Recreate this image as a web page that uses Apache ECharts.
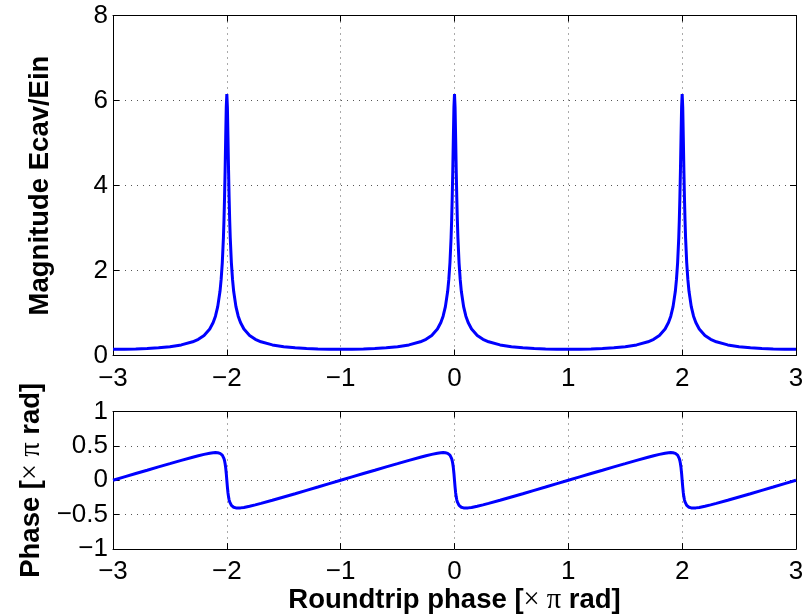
<!DOCTYPE html>
<html>
<head>
<meta charset="utf-8">
<script src="https://cdn.jsdelivr.net/npm/echarts@6/dist/echarts.min.js"></script>
<style>
html,body{margin:0;padding:0;background:#fff;}
#chart{width:809px;height:616px;}
</style>
</head>
<body>
<div id="chart"></div>
<script>
// Roundtrip phase (× π rad)
const roundtripPhase = [
 -3, -2.9, -2.8, -2.7, -2.6, -2.5, -2.4, -2.3, -2.25, -2.2, -2.15, -2.12, -2.1, -2.08, -2.06, -2.05, -2.04, -2.03, -2.025, -2.02, -2.015, -2.01, -2.005,
 -2, -1.995, -1.99, -1.985, -1.98, -1.975, -1.97, -1.96, -1.95, -1.94, -1.92, -1.9, -1.88, -1.85, -1.8, -1.75, -1.7, -1.6, -1.5, -1.4, -1.3, -1.2, -1.1,
 -1, -0.9, -0.8, -0.7, -0.6, -0.5, -0.4, -0.3, -0.25, -0.2, -0.15, -0.12, -0.1, -0.08, -0.06, -0.05, -0.04, -0.03, -0.025, -0.02, -0.015, -0.01, -0.005,
 0, 0.005, 0.01, 0.015, 0.02, 0.025, 0.03, 0.04, 0.05, 0.06, 0.08, 0.1, 0.12, 0.15, 0.2, 0.25, 0.3, 0.4, 0.5, 0.6, 0.7, 0.8, 0.9,
 1, 1.1, 1.2, 1.3, 1.4, 1.5, 1.6, 1.7, 1.75, 1.8, 1.85, 1.88, 1.9, 1.92, 1.94, 1.95, 1.96, 1.97, 1.975, 1.98, 1.985, 1.99, 1.995,
 2, 2.005, 2.01, 2.015, 2.02, 2.025, 2.03, 2.04, 2.05, 2.06, 2.08, 2.1, 2.12, 2.15, 2.2, 2.25, 2.3, 2.4, 2.5, 2.6, 2.7, 2.8, 2.9, 3
];
// Magnitude Ecav/Ein
const magnitude = [
 0.146, 0.148, 0.154, 0.164, 0.181, 0.207, 0.249, 0.322, 0.382, 0.473, 0.624, 0.775, 0.925, 1.15, 1.51, 1.79, 2.18, 2.77, 3.19, 3.72, 4.37, 5.13, 5.84,
 6.15, 5.84, 5.13, 4.37, 3.72, 3.19, 2.77, 2.18, 1.79, 1.51, 1.15, 0.925, 0.775, 0.624, 0.473, 0.382, 0.322, 0.249, 0.207, 0.181, 0.164, 0.154, 0.148,
 0.146, 0.148, 0.154, 0.164, 0.181, 0.207, 0.249, 0.322, 0.382, 0.473, 0.624, 0.775, 0.925, 1.15, 1.51, 1.79, 2.18, 2.77, 3.19, 3.72, 4.37, 5.13, 5.84,
 6.15, 5.84, 5.13, 4.37, 3.72, 3.19, 2.77, 2.18, 1.79, 1.51, 1.15, 0.925, 0.775, 0.624, 0.473, 0.382, 0.322, 0.249, 0.207, 0.181, 0.164, 0.154, 0.148,
 0.146, 0.148, 0.154, 0.164, 0.181, 0.207, 0.249, 0.322, 0.382, 0.473, 0.624, 0.775, 0.925, 1.15, 1.51, 1.79, 2.18, 2.77, 3.19, 3.72, 4.37, 5.13, 5.84,
 6.15, 5.84, 5.13, 4.37, 3.72, 3.19, 2.77, 2.18, 1.79, 1.51, 1.15, 0.925, 0.775, 0.624, 0.473, 0.382, 0.322, 0.249, 0.207, 0.181, 0.164, 0.154, 0.148, 0.146
];
// Phase (× π rad)
const phase = [
 0, 0.049, 0.098, 0.146, 0.195, 0.242, 0.290, 0.335, 0.357, 0.377, 0.394, 0.401, 0.403, 0.401, 0.392, 0.381, 0.365, 0.336, 0.314, 0.284, 0.241, 0.181, 0.099,
 0, -0.099, -0.181, -0.241, -0.284, -0.314, -0.336, -0.365, -0.381, -0.392, -0.401, -0.403, -0.401, -0.394, -0.377, -0.357, -0.335, -0.290, -0.242, -0.195, -0.146, -0.098, -0.049,
 0, 0.049, 0.098, 0.146, 0.195, 0.242, 0.290, 0.335, 0.357, 0.377, 0.394, 0.401, 0.403, 0.401, 0.392, 0.381, 0.365, 0.336, 0.314, 0.284, 0.241, 0.181, 0.099,
 0, -0.099, -0.181, -0.241, -0.284, -0.314, -0.336, -0.365, -0.381, -0.392, -0.401, -0.403, -0.401, -0.394, -0.377, -0.357, -0.335, -0.290, -0.242, -0.195, -0.146, -0.098, -0.049,
 0, 0.049, 0.098, 0.146, 0.195, 0.242, 0.290, 0.335, 0.357, 0.377, 0.394, 0.401, 0.403, 0.401, 0.392, 0.381, 0.365, 0.336, 0.314, 0.284, 0.241, 0.181, 0.099,
 0, -0.099, -0.181, -0.241, -0.284, -0.314, -0.336, -0.365, -0.381, -0.392, -0.401, -0.403, -0.401, -0.394, -0.377, -0.357, -0.335, -0.290, -0.242, -0.195, -0.146, -0.098, -0.049, 0
];
const xTicks = [-3, -2, -1, 0, 1, 2, 3];
const magTicks = [0, 2, 4, 6, 8];
const phaseTicks = [-1, -0.5, 0, 0.5, 1];

const FONT = 'Liberation Sans, Arial, Helvetica, sans-serif';
const SERIF = 'Liberation Serif, DejaVu Serif, serif';
const FS = 26;
const NFS = 27.5;
const fmt = v => String(v).replace('-', '\u2212');
const gridLine = { show: true, lineStyle: { color: '#555', width: 1, type: [1, 5] } };
const nameRich = {
  b: { fontFamily: FONT, fontWeight: 'bold', fontSize: NFS, color: '#000' },
  s: { fontFamily: SERIF, fontSize: NFS + 1, color: '#000' }
};

function mainX(gridIndex, ticks, showName) {
  return {
    type: 'value', gridIndex, min: ticks[0], max: ticks[ticks.length - 1], interval: 1,
    position: 'bottom',
    axisLine: { show: true, onZero: false, lineStyle: { color: '#000', width: 1 } },
    axisTick: { show: true, inside: true, length: 6, lineStyle: { color: '#000' } },
    axisLabel: { show: true, formatter: fmt, color: '#000', fontFamily: FONT, fontSize: FS, margin: 10 },
    splitLine: gridLine,
    name: showName ? '{b|Roundtrip phase [}{s|\u00d7 \u03c0}{b| rad]}' : '',
    nameLocation: 'middle', nameGap: 35,
    nameTextStyle: { rich: nameRich }
  };
}
function sideX(gridIndex, ticks) {
  return {
    type: 'value', gridIndex, min: ticks[0], max: ticks[ticks.length - 1], interval: 1,
    position: 'top',
    axisLine: { show: true, onZero: false, lineStyle: { color: '#000', width: 1 } },
    axisTick: { show: true, inside: true, length: 6, lineStyle: { color: '#000' } },
    axisLabel: { show: false }, splitLine: { show: false }
  };
}
function mainY(gridIndex, ticks, interval, name, gap) {
  return {
    type: 'value', gridIndex, min: ticks[0], max: ticks[ticks.length - 1], interval,
    position: 'left',
    axisLine: { show: true, onZero: false, lineStyle: { color: '#000', width: 1 } },
    axisTick: { show: true, inside: true, length: 6, lineStyle: { color: '#000' } },
    axisLabel: { show: true, formatter: fmt, color: '#000', fontFamily: FONT, fontSize: FS, margin: 5 },
    splitLine: gridLine,
    name, nameLocation: 'middle', nameGap: gap, nameRotate: 90,
    nameTextStyle: { rich: nameRich }
  };
}
function sideY(gridIndex, ticks, interval) {
  return {
    type: 'value', gridIndex, min: ticks[0], max: ticks[ticks.length - 1], interval,
    position: 'right',
    axisLine: { show: true, onZero: false, lineStyle: { color: '#000', width: 1 } },
    axisTick: { show: true, inside: true, length: 6, lineStyle: { color: '#000' } },
    axisLabel: { show: false }, splitLine: { show: false }
  };
}

const magData = roundtripPhase.map((x, i) => [x, magnitude[i]]);
const phaseData = roundtripPhase.map((x, i) => [x, phase[i]]);

const chart = echarts.init(document.getElementById('chart'), null, { renderer: 'canvas' });
chart.setOption({
  animation: false,
  backgroundColor: '#fff',
  grid: [
    { left: 113, right: 13, top: 15.5, height: 340 },
    { left: 113, right: 13, top: 411.5, height: 141.5 }
  ],
  xAxis: [mainX(0, xTicks, false), sideX(0, xTicks), mainX(1, xTicks, true), sideX(1, xTicks)],
  yAxis: [
    mainY(0, magTicks, 2, '{b|Magnitude Ecav/Ein}', 59),
    sideY(0, magTicks, 2),
    mainY(1, phaseTicks, 0.5, '{b|Phase [}{s|\u00d7 \u03c0}{b| rad]}', 66),
    sideY(1, phaseTicks, 0.5)
  ],
  series: [
    { type: 'line', xAxisIndex: 0, yAxisIndex: 0, data: magData, showSymbol: false,
      lineStyle: { color: '#0000ff', width: 3 }, clip: true },
    { type: 'line', xAxisIndex: 2, yAxisIndex: 2, data: phaseData, showSymbol: false,
      lineStyle: { color: '#0000ff', width: 3 }, clip: true }
  ]
});
</script>
</body>
</html>
